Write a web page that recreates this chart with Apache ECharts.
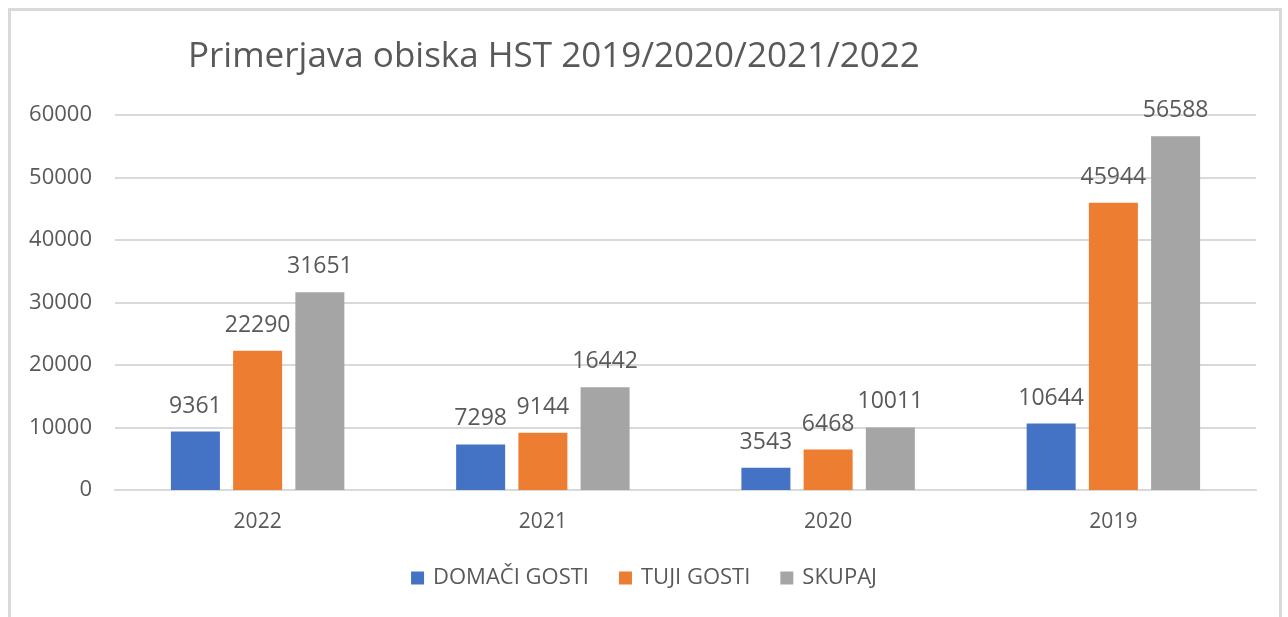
<!DOCTYPE html>
<html>
<head>
<meta charset="utf-8">
<script src="https://cdn.jsdelivr.net/npm/echarts@6/dist/echarts.min.js"></script>
<style>
  html, body { margin: 0; padding: 0; background: #fff; }
  #frame { position: absolute; left: 8px; top: 8px; width: 1274px; height: 620px; border: 3px solid #d9d9d9; border-bottom: none; box-sizing: border-box; }
  #container { width: 1288px; height: 617px; }
</style>
</head>
<body>
<div id="frame"></div>
<div id="container" style="position:absolute;left:0;top:0;"></div>
<script>
var years = ['2022', '2021', '2020', '2019'];
var domaci = [9361, 7298, 3543, 10644];
var tuji = [22290, 9144, 6468, 45944];
var skupaj = [31651, 16442, 10011, 56588];
var seriesNames = ['DOMAČI GOSTI', 'TUJI GOSTI', 'SKUPAJ'];
var colors = ['#4472c4', '#ed7d31', '#a5a5a5'];

var font = '"Open Sans", "Noto Sans", sans-serif';
var txt = '#595959';

function makeSeries(name, data, color) {
    return {
        name: name,
        type: 'bar',
        data: data,
        barWidth: 49,
        barGap: '27%',
        itemStyle: { color: color },
        label: {
            show: true,
            position: 'top',
            distance: 14,
            color: txt,
            fontSize: 23,
            fontFamily: font
        }
    };
}

var option = {
    backgroundColor: 'transparent',
    animation: false,
    title: {
        text: 'Primerjava obiska HST 2019/2020/2021/2022',
        left: 183,
        top: 35,
        textStyle: { color: txt, fontSize: 35, fontWeight: 'normal', fontFamily: font }
    },
    legend: {
        data: seriesNames,
        bottom: 23,
        left: 'center',
        itemWidth: 13,
        itemHeight: 13,
        itemGap: 30,
        icon: 'rect',
        textStyle: { color: txt, fontSize: 22, fontFamily: font, padding: [0, 0, 0, 4] }
    },
    grid: { left: 115, right: 32, top: 115, bottom: 127, containLabel: false },
    xAxis: {
        type: 'category',
        data: years,
        axisLine: { lineStyle: { color: '#d9d9d9', width: 2 } },
        axisTick: { show: false },
        axisLabel: { color: txt, fontSize: 21, fontFamily: font, margin: 22 }
    },
    yAxis: {
        type: 'value',
        min: 0,
        max: 60000,
        interval: 10000,
        axisLine: { show: false },
        axisTick: { show: false },
        axisLabel: {
            color: txt, fontSize: 22, fontFamily: font, margin: 23,
            formatter: function (v) { return String(v); }
        },
        splitLine: { lineStyle: { color: '#d9d9d9', width: 2 } }
    },
    series: [
        makeSeries(seriesNames[0], domaci, colors[0]),
        makeSeries(seriesNames[1], tuji, colors[1]),
        makeSeries(seriesNames[2], skupaj, colors[2])
    ]
};

echarts.init(document.getElementById('container')).setOption(option);
</script>
</body>
</html>
